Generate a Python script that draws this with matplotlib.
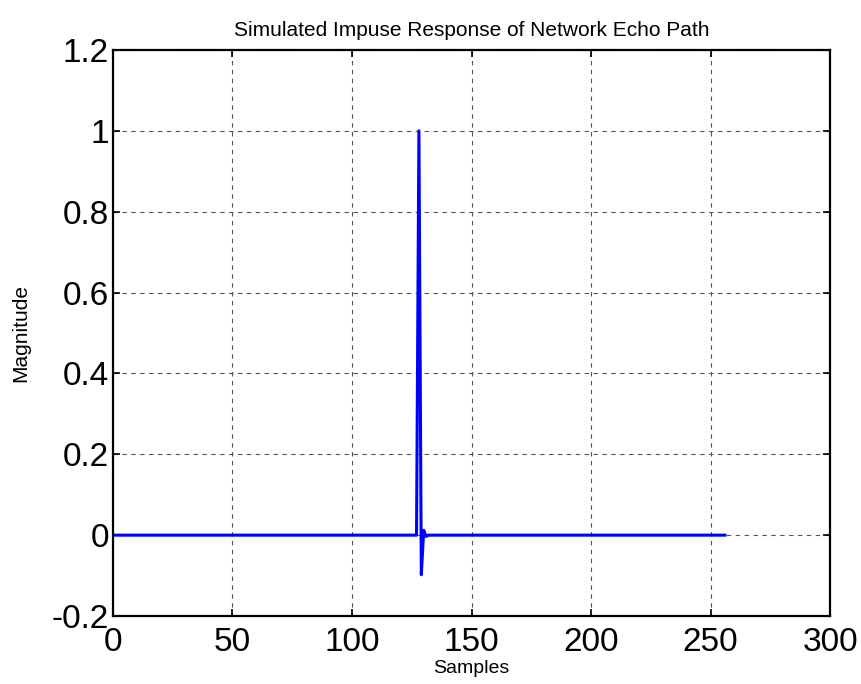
import numpy as np
import matplotlib.pyplot as plt

plt.rcParams['font.family'] = ['Liberation Sans', 'DejaVu Sans']

# Echo path taps (non-zero samples), everything else is zero
n_samples = 256
tap_idx = [128, 129, 130, 131]
tap_val = [1.0, -0.098, 0.012, -0.003]

samples = np.arange(1, n_samples + 1)
h = np.zeros(n_samples)
for i, v in zip(tap_idx, tap_val):
    h[i - 1] = v

fig = plt.figure(figsize=(8.62, 6.84), dpi=100)
ax = fig.add_axes([0.131, 0.0994, 0.832, 0.8276])

ax.plot(samples, h, color='#0000ff', linewidth=2.2)

ax.set_xlim(0, 300)
ax.set_ylim(-0.2, 1.2)
ax.set_xticks([0, 50, 100, 150, 200, 250, 300])
ax.set_yticks([-0.2, 0, 0.2, 0.4, 0.6, 0.8, 1.0, 1.2])
ax.set_yticklabels(['-0.2', '0', '0.2', '0.4', '0.6', '0.8', '1', '1.2'])
ax.tick_params(labelsize=24, direction='in', length=5, width=1.2, top=True, right=True)
ax.tick_params(axis='x', pad=8)
ax.tick_params(axis='y', pad=3)
for s in ax.spines.values():
    s.set_linewidth(1.6)
ax.grid(True, color='#555555', linestyle=(0, (4, 4)), linewidth=0.8)

ax.set_title('Simulated Impuse Response of Network Echo Path', fontsize=15, pad=10)
ax.set_xlabel('Samples', fontsize=14, labelpad=1)
ax.set_ylabel('Magnitude', fontsize=15, labelpad=15)

fig.savefig('out.png')
